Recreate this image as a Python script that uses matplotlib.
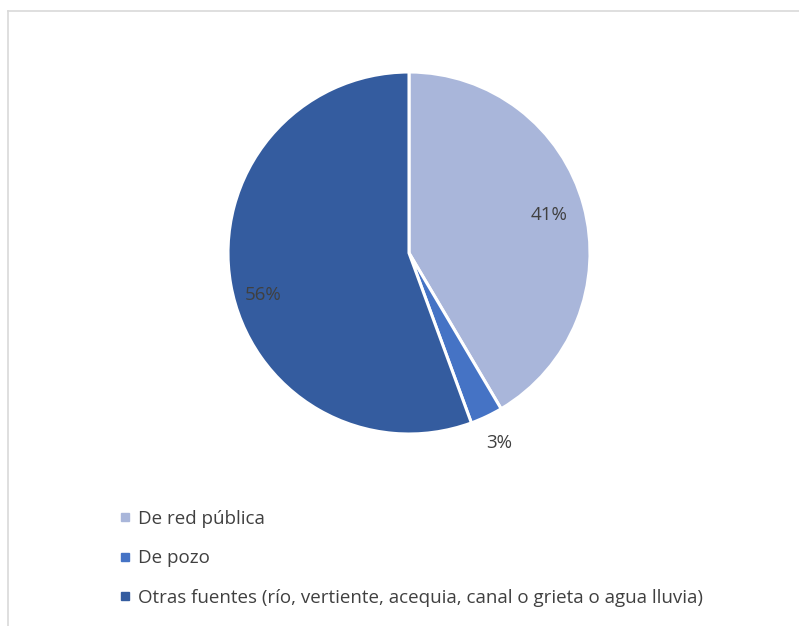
import matplotlib

matplotlib.use("Agg")
import matplotlib.pyplot as plt
import numpy as np
from matplotlib.lines import Line2D

# data
categories = [
    "De red pública",
    "De pozo",
    "Otras fuentes (río, vertiente, acequia, canal o grieta o agua lluvia)",
]
shares = [41.5, 2.9, 55.6]
pct_labels = ["41%", "3%", "56%"]
colors = ["#A9B6DA", "#4573C5", "#345C9F"]

plt.rcParams["font.family"] = ["Open Sans", "DejaVu Sans"]

W, H = 799, 626
fig = plt.figure(figsize=(W / 100, H / 100), dpi=100)
fig.patch.set_facecolor("white")

# thin chart-area frame (top and left edges visible)
fig.add_artist(Line2D([8 / W, 1], [1 - 11 / H, 1 - 11 / H], color="#D9D9D9", lw=1.2))
fig.add_artist(Line2D([8 / W, 8 / W], [0, 1 - 11 / H], color="#D9D9D9", lw=1.2))

cx, cy, r = 409, 253, 181
ax = fig.add_axes([(cx - r) / W, (H - cy - r) / H, 2 * r / W, 2 * r / H])
wedges, _ = ax.pie(
    shares,
    colors=colors,
    startangle=90,
    counterclock=False,
    wedgeprops=dict(edgecolor="white", linewidth=2.2),
    radius=1,
)
ax.set_xlim(-1, 1)
ax.set_ylim(-1, 1)
ax.set_aspect("equal")

# label placement: radius and angle tweak per slice
label_r = [0.80, 1.16, 0.84]
label_shift = [0, 0, 6]
for w, lab, rr, sh in zip(wedges, pct_labels, label_r, label_shift):
    mid = np.deg2rad((w.theta1 + w.theta2) / 2 + sh)
    ax.text(rr * np.cos(mid), rr * np.sin(mid), lab, ha="center", va="center",
            fontsize=13.5, color="#404040")

handles = [plt.Line2D([], [], marker="s", linestyle="none", markersize=6,
                      markerfacecolor=c, markeredgecolor=c) for c in colors]
fig.legend(handles, categories, loc="upper left", bbox_to_anchor=(120 / W, 1 - 509.5 / H),
           frameon=False, fontsize=13.5, labelcolor="#404040", handlelength=0.55,
           handletextpad=0.4, labelspacing=1.15, borderpad=0, borderaxespad=0)

fig.savefig("out.png", dpi=100)
